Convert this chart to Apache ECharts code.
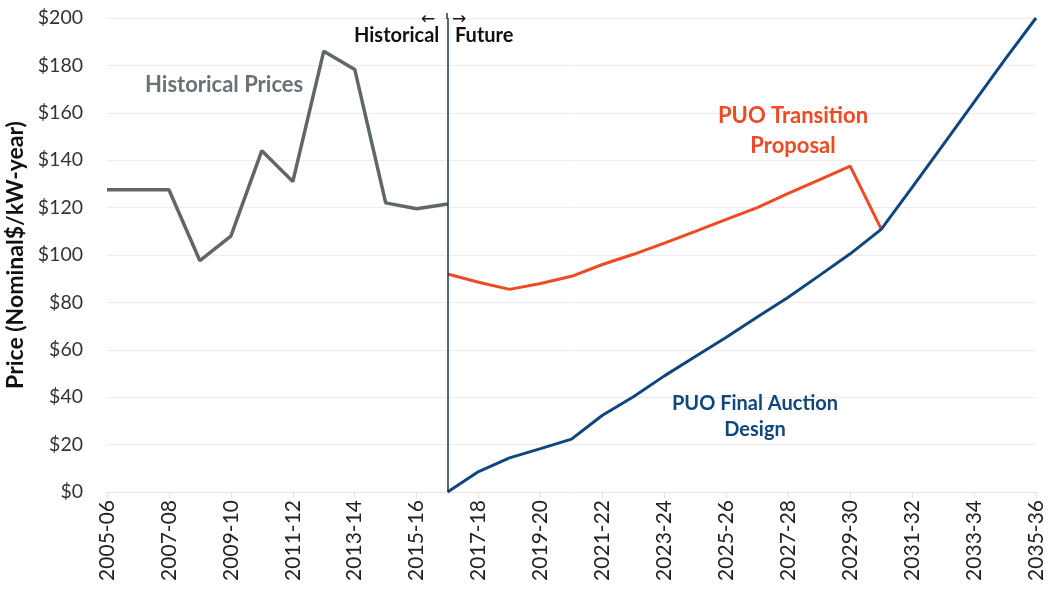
<!DOCTYPE html>
<html><head><meta charset="utf-8">
<script src="https://cdn.jsdelivr.net/npm/echarts@6/dist/echarts.min.js"></script>
<style>html,body{margin:0;padding:0;background:#fff}#c{width:1056px;height:591px}</style>
</head><body><div id="c"></div>
<script>
var categories = ['2005-06','2006-07','2007-08','2008-09','2009-10','2010-11','2011-12','2012-13','2013-14','2014-15','2015-16','2016-17','2017-18','2018-19','2019-20','2020-21','2021-22','2022-23','2023-24','2024-25','2025-26','2026-27','2027-28','2028-29','2029-30','2030-31','2031-32','2032-33','2033-34','2034-35','2035-36'];
var historicalPrices = [127.5,127.5,127.5,97.6,108,144,131,186,178.3,122,119.5,121.5];
var puoTransition = [92,88.5,85.5,88,91,96,100.3,105,110,115,120,126,131.7,137.5,111];
var puoFinal = [0,8.6,14.4,18.3,22.3,32.4,40.2,49,57.2,65.3,73.8,82.2,91.3,100.5,110.8,128.5,146.5,164.5,182.5,200];
var futureStart = '2016-17';

function pad(arr, start) {
  var out = [];
  for (var i = 0; i < categories.length; i++) {
    var j = i - start;
    out.push(j >= 0 && j < arr.length ? arr[j] : null);
  }
  return out;
}
var startIdx = categories.indexOf(futureStart);
var FONT = 'Lato';
var chart = echarts.init(document.getElementById('c'));
chart.setOption({
  animation: false,
  textStyle: { fontFamily: FONT },
  grid: { left: 107, right: 20, top: 18, bottom: 99, containLabel: false, outerBoundsMode: 'none' },
  xAxis: {
    type: 'category', data: categories, boundaryGap: false,
    axisLine: { lineStyle: { color: '#e3e3e3', width: 1 } },
    axisTick: { show: true, interval: 1, length: 6, lineStyle: { color: '#e3e3e3' } },
    axisLabel: { interval: 1, rotate: 90, color: '#222', fontSize: 21, fontFamily: FONT, margin: 8 },
    splitLine: { show: false }
  },
  yAxis: {
    type: 'value', min: 0, max: 200, interval: 20,
    name: 'Price (Nominal$/kW-year)', nameLocation: 'middle', nameGap: 76,
    nameTextStyle: { fontSize: 23, fontWeight: 'bold', color: '#111', fontFamily: FONT },
    axisLine: { show: false }, axisTick: { show: false },
    axisLabel: { formatter: function (v) { return '$' + v; }, color: '#333', fontSize: 19.5, fontFamily: FONT, margin: 24 },
    splitLine: { lineStyle: { color: '#ececec', width: 1 } }
  },
  series: [
    { name: 'Historical Prices', type: 'line', data: pad(historicalPrices, 0), showSymbol: false,
      lineStyle: { color: '#5f676b', width: 3.5 }, itemStyle: { color: '#5f676b' }, z: 3,
      markLine: { silent: true, symbol: ['none','none'], label: { show: false },
        lineStyle: { color: '#14375e', width: 1.5, type: 'solid' },
        data: [{ xAxis: futureStart }] } },
    { name: 'PUO Transition Proposal', type: 'line', data: pad(puoTransition, startIdx), showSymbol: false,
      lineStyle: { color: '#f04a22', width: 3 }, itemStyle: { color: '#f04a22' }, z: 2 },
    { name: 'PUO Final Auction Design', type: 'line', data: pad(puoFinal, startIdx), showSymbol: false,
      lineStyle: { color: '#0f4680', width: 3 }, itemStyle: { color: '#0f4680' }, z: 4 }
  ],
  graphic: [
    { type: 'line', z: 100, shape: { x1: 447, y1: 13, x2: 447, y2: 19 }, style: { stroke: '#14375e', lineWidth: 1.5 } },
    { type: 'text', z: 100, left: 145, top: 74, style: { text: 'Historical Prices', fill: '#6a7276', font: 'bold 22px ' + FONT } },
    { type: 'text', z: 100, left: 354, top: 26, style: { text: 'Historical', fill: '#111', font: 'bold 20px ' + FONT } },
    { type: 'text', z: 100, left: 455, top: 26, style: { text: 'Future', fill: '#111', font: 'bold 20px ' + FONT } },
    { type: 'text', z: 100, left: 421, top: 11, style: { text: '\u2190', fill: '#111', font: '17px DejaVu Sans' } },
    { type: 'text', z: 100, left: 452, top: 11, style: { text: '\u2192', fill: '#111', font: '17px DejaVu Sans' } },
    { type: 'text', z: 100, x: 793, y: 101, style: { text: 'PUO Transition\nProposal', fill: '#f04a22', font: 'bold 22px ' + FONT, align: 'center', lineHeight: 30 } },
    { type: 'text', z: 100, x: 755, y: 391, style: { text: 'PUO Final Auction\nDesign', fill: '#0f4680', font: 'bold 20px ' + FONT, align: 'center', lineHeight: 26 } }
  ]
});
</script></body></html>
